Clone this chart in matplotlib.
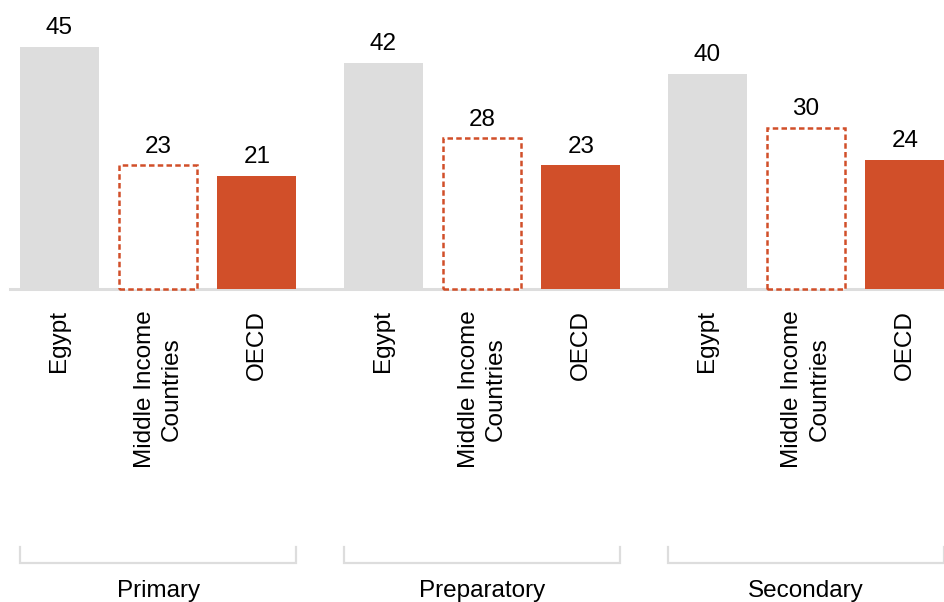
import numpy as np
import matplotlib.pyplot as plt

plt.rcParams['font.family'] = ['Liberation Sans', 'DejaVu Sans']

groups = ['Primary', 'Preparatory', 'Secondary']
series = ['Egypt', 'Middle Income\nCountries', 'OECD']
egypt = [45, 42, 40]
mic = [23, 28, 30]
oecd = [21, 23, 24]

GRAY = '#DDDDDD'
ORANGE = '#D14F29'
FS = 17.5

fig = plt.figure(figsize=(9.44, 6.02), dpi=100)
ax = fig.add_axes([0, 0, 1, 1])
ax.axis('off')

gap = 3.28
width = 0.8
ax.set_xlim(-0.6025, 8.957)
ax.set_ylim(-58.2, 53.7)

vals = [egypt, mic, oecd]
for g in range(len(groups)):
    for i in range(3):
        x = g * gap + i
        v = vals[i][g]
        if i == 0:
            ax.bar(x, v, width, color=GRAY)
        elif i == 2:
            ax.bar(x, v, width, color=ORANGE)
        else:
            ax.bar(x, v, width - 0.01, facecolor='white', edgecolor=ORANGE,
                   linewidth=1.8, linestyle=(0, (2.2, 1.3)))
        ax.annotate(str(v), (x, v), xytext=(0, 5.5), textcoords='offset points',
                    ha='center', va='bottom', fontsize=FS)
        ax.text(x, -4.0, series[i], rotation=90, ha='center', va='top',
                multialignment='center', fontsize=FS, linespacing=1.3)
    # bracket under each group
    left = g * gap - 0.4
    right = g * gap + 2 + 0.4
    ax.plot([left, left, right, right], [-48.0, -50.9, -50.9, -48.0],
            color='#DDDDDD', lw=1.6, solid_joinstyle='miter')
    ax.text(g * gap + 1, -56.2, groups[g], ha='center', va='center', fontsize=FS)

# baseline
ax.plot([-0.5, 8.957], [0, 0], color='#DDDDDD', lw=2.2, zorder=0)

fig.savefig('out.png', dpi=100)
